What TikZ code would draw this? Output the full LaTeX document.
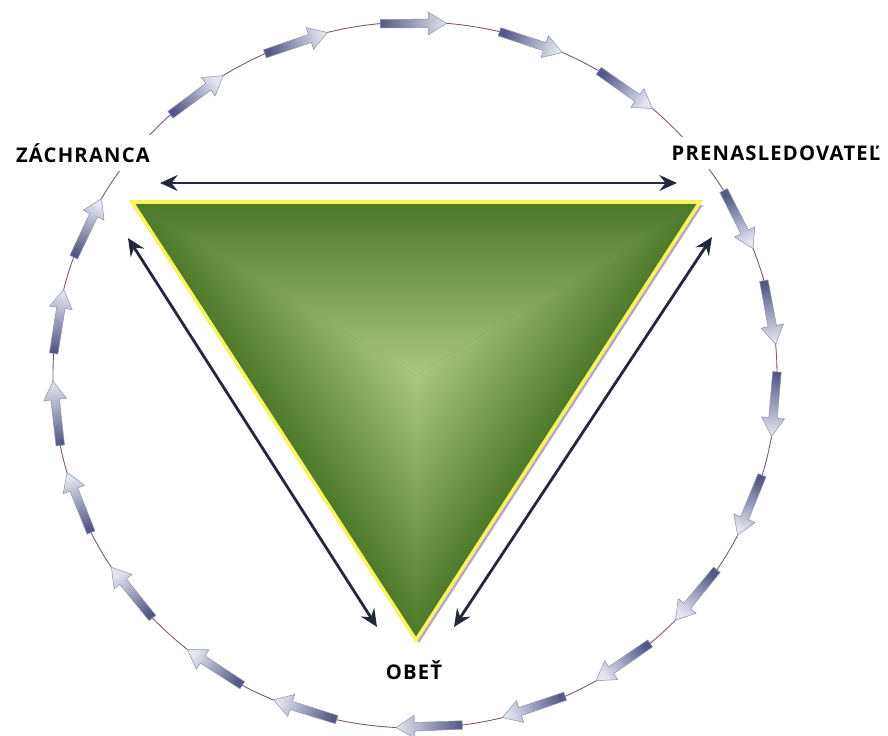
\documentclass[tikz,border=0pt]{standalone}
\usepackage{fontspec}
\setmainfont{Open Sans}
\usetikzlibrary{arrows.meta, calc}
\definecolor{ringline}{RGB}{128,84,112}
\definecolor{ringdark}{RGB}{84,88,134}
\definecolor{ringlight}{RGB}{226,228,238}
\definecolor{ringedge}{RGB}{146,148,172}
\definecolor{navy}{RGB}{35,40,58}
\definecolor{greendark}{RGB}{74,118,38}
\definecolor{greenlight}{RGB}{168,200,126}
\definecolor{rimyellow}{RGB}{248,244,96}
\definecolor{shadowlilac}{RGB}{176,166,200}

\begin{document}
\begin{tikzpicture}[x=0.02cm, y=0.02cm,
  role/.style={font=\bfseries\fontsize{11.5}{13}\selectfont\addfontfeature{LetterSpace=6},
               fill=white, inner sep=5pt},
  link/.style={{Stealth[length=10pt,width=9pt,inset=3.5pt]}-{Stealth[length=10pt,width=9pt,inset=3.5pt]},
               line width=1.6pt, color=navy},
  ringarrow/.style={draw=ringedge, line width=0.3pt, top color=ringlight, bottom color=ringdark},
  face/.style={bottom color=greendark, middle color=greendark!70!greenlight, top color=greenlight}
]
\useasboundingbox (0,0) rectangle (888,735);

% Ring with clockwise arrows
\coordinate (ctr) at (415,360);
\draw[ringline, line width=0.5pt] (ctr) ellipse [x radius=362, y radius=353];
\foreach \a in {85,66,49,21,5,-10,-27,-44,-60,-76,-93,-113,-129,-147,-164,-179,166,150,122,104} {
  \pgfmathsetmacro\sa{\a-175}
  \coordinate (tp) at ($(ctr)+(\a:362 and 353)$);
  \coordinate (tl) at ($(ctr)+(\a+10.5:362 and 353)$);
  \coordinate (hb) at ($(tp)!0.37cm!(tl)$);
  \path[ringarrow, shading angle=\sa]
    ($(tl)!0.085cm!90:(tp)$) -- ($(hb)!0.085cm!90:(tp)$) -- ($(hb)!0.23cm!90:(tp)$)
    -- (tp) -- ($(hb)!0.23cm!-90:(tp)$) -- ($(hb)!0.085cm!-90:(tp)$)
    -- ($(tl)!0.085cm!-90:(tp)$) -- cycle;
}

% Roles
\node[role] (zach) at (83,582) {ZÁCHRANCA};
\node[role] (pren) at (776,582) {PRENASLEDOVATEĽ};
\node[role] (obet) at (414,65) {OBEŤ};

% Triangle
\coordinate (zr) at (132,533);
\coordinate (pr) at (700,533);
\coordinate (ob) at (416,95);
\coordinate (mid) at (416,360);
\fill[shadowlilac] ($(zr)+(3,-3)$) -- ($(pr)+(3,-3)$) -- ($(ob)+(3,-3)$) -- cycle;
\fill[greendark] (zr) -- (pr) -- (ob) -- cycle;
\begin{scope}
  \clip (pr) -- (zr) -- (mid) -- cycle;
  \begin{scope}[transform canvas={shift={(pr)}, rotate=180}]
    \shade[face] (-60,-5) rectangle (640,173);
  \end{scope}
\end{scope}
\begin{scope}
  \clip (zr) -- (ob) -- (mid) -- cycle;
  \begin{scope}[transform canvas={shift={(zr)}, rotate=-57}]
    \shade[face] (-60,-5) rectangle (600,144);
  \end{scope}
\end{scope}
\begin{scope}
  \clip (ob) -- (pr) -- (mid) -- cycle;
  \begin{scope}[transform canvas={shift={(ob)}, rotate=57}]
    \shade[face] (-60,-5) rectangle (600,144);
  \end{scope}
\end{scope}
\draw[rimyellow, line width=2pt] (zr) -- (pr) -- (ob) -- cycle;

% Links between roles
\coordinate (zr-a) at (160,552);
\coordinate (pr-a) at (677,552);
\coordinate (zr-b) at (128,497);
\coordinate (ob-a) at (377,108);
\coordinate (pr-b) at (712,498);
\coordinate (ob-b) at (454,108);
\draw[link] (zr-a) -- (pr-a);
\draw[link] (zr-b) -- (ob-a);
\draw[link] (pr-b) -- (ob-b);

\end{tikzpicture}
\end{document}
